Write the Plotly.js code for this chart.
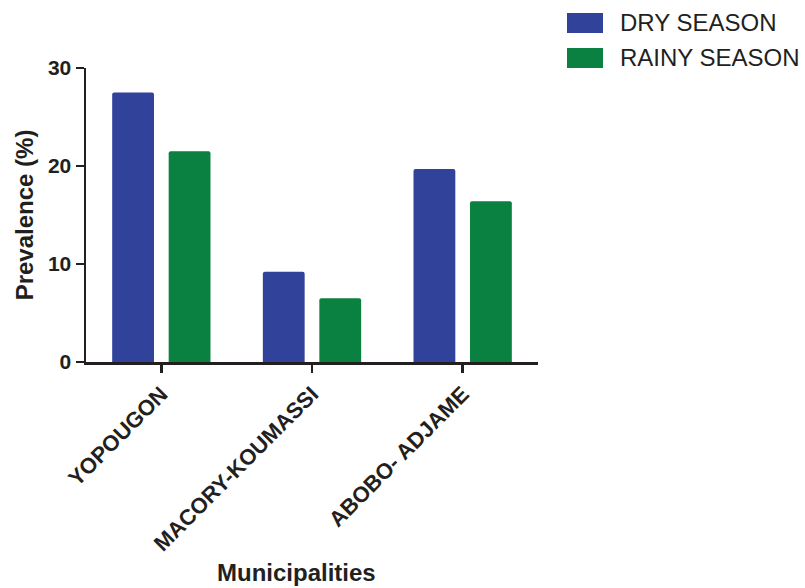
<!DOCTYPE html>
<html>
<head>
<meta charset="utf-8">
<script src="https://cdn.plot.ly/plotly-3.0.1.min.js"></script>
<style>
  html, body { margin: 0; padding: 0; background: #fff; }
  #chart { width: 805px; height: 588px; }
</style>
</head>
<body>
<div id="chart"></div>
<script>
// Prevalence by municipality and season
const municipalities = ['YOPOUGON', 'MACORY-KOUMASSI', 'ABOBO- ADJAME'];
const seriesNames = ['DRY SEASON', 'RAINY SEASON'];
const drySeason = [27.5, 9.2, 19.7];
const rainySeason = [21.5, 6.5, 16.4];
const yTicks = [0, 10, 20, 30];

const colors = ['#30429a', '#0a8041'];
const ink = '#231f20';
const font = 'Liberation Sans, Arial, Helvetica, sans-serif';

const W = 805, H = 588;
const M = { l: 86, r: 267, t: 68, b: 226 };
const plotW = W - M.l - M.r, plotH = H - M.t - M.b;
// convert page pixels to paper coordinates for the legend and x title
const px = x => (x - M.l) / plotW;
const py = y => (H - M.b - y) / plotH;

const traces = [drySeason, rainySeason].map((vals, i) => ({
  type: 'bar',
  name: seriesNames[i],
  x: municipalities,
  y: vals,
  marker: { color: colors[i], line: { width: 0 }, cornerradius: 2 },
  showlegend: false,
  hoverinfo: 'x+y+name'
}));

// legend drawn as rectangles with labels
const shapes = [];
const annotations = [];
seriesNames.forEach((name, i) => {
  const top = 13 + i * 35;
  shapes.push({
    type: 'rect', xref: 'paper', yref: 'paper',
    x0: px(567), x1: px(603), y0: py(top + 20), y1: py(top),
    fillcolor: colors[i], line: { width: 0 }
  });
  annotations.push({
    xref: 'paper', yref: 'paper', x: px(618), y: py(top + 10),
    xanchor: 'left', yanchor: 'middle', showarrow: false,
    text: name, font: { family: font, size: 24, color: ink }
  });
});

// x axis title, set slightly left of the plot centre
annotations.push({
  xref: 'paper', yref: 'paper', x: px(296), y: py(572),
  xanchor: 'center', yanchor: 'middle', showarrow: false,
  text: 'Municipalities',
  font: { family: font, size: 24, color: ink, weight: 'bold' }
});

const layout = {
  width: W, height: H,
  margin: M,
  paper_bgcolor: '#fff', plot_bgcolor: '#fff',
  barmode: 'group',
  bargap: 0.25,
  bargroupgap: 0.26,
  font: { family: font, color: ink },
  xaxis: {
    type: 'category',
    range: [-0.5, 2.5],
    showline: true, linecolor: ink, linewidth: 2.5,
    ticks: 'outside', ticklen: 8, tickwidth: 2.5, tickcolor: ink,
    tickangle: -45,
    tickfont: { family: font, size: 22, color: ink, weight: 'bold' },
    showgrid: false, zeroline: false
  },
  yaxis: {
    range: [0, 30],
    tickvals: yTicks,
    showline: true, linecolor: ink, linewidth: 2.5,
    ticks: 'outside', ticklen: 8, tickwidth: 2.5, tickcolor: ink,
    tickfont: { family: font, size: 21, color: ink, weight: 'bold' },
    showgrid: false, zeroline: false,
    title: { text: 'Prevalence (%)', font: { family: font, size: 24, color: ink, weight: 'bold' }, standoff: 8 }
  },
  shapes: shapes,
  annotations: annotations
};

Plotly.newPlot('chart', traces, layout, { displayModeBar: false, staticPlot: true });
</script>
</body>
</html>
